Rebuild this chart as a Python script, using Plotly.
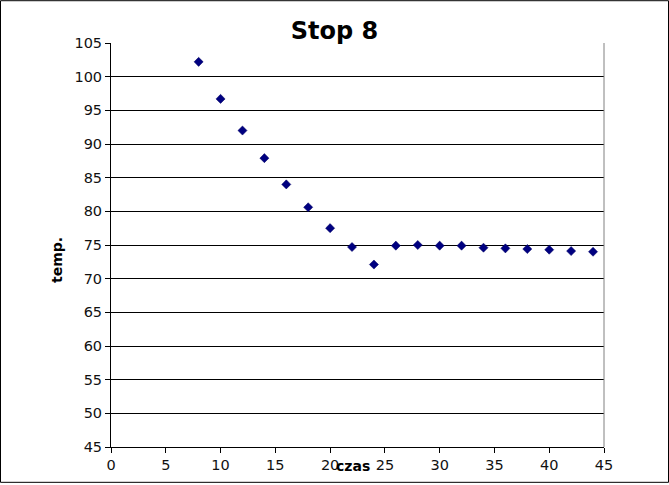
import plotly.graph_objects as go

czas = [8, 10, 12, 14, 16, 18, 20, 22, 24, 26, 28, 30, 32, 34, 36, 38, 40, 42, 44]
temp = [102.2, 96.7, 92.0, 87.9, 84.0, 80.6, 77.5, 74.7, 72.1, 74.9, 75.0, 74.9, 74.9,
        74.6, 74.5, 74.4, 74.3, 74.1, 74.0]

W, H = 669, 485
L, R, T, B = 111, 65, 43, 36
pw, ph = W - L - R, H - T - B

fig = go.Figure()
fig.add_trace(go.Scatter(
    x=czas, y=temp, mode="markers",
    marker=dict(symbol="diamond", size=7, color="#000080",
                line=dict(width=0.5, color="#000060")),
    showlegend=False,
))

font = dict(family="DejaVu Sans", size=14.5, color="#111111")

fig.update_layout(
    width=W, height=H,
    margin=dict(l=L, r=R, t=T, b=B, pad=0),
    paper_bgcolor="white", plot_bgcolor="white",
    font=font,
    title=dict(text="<b>Stop 8</b>", x=0.5, xref="container", xanchor="center",
               y=1 - 31 / H, yref="container", yanchor="middle",
               font=dict(family="DejaVu Sans", size=24, color="#000000")),
    xaxis=dict(range=[0, 45], tickmode="array", tickvals=list(range(0, 46, 5)),
               showgrid=False, zeroline=False, showline=True, linecolor="black",
               linewidth=1, ticks="outside", ticklen=5, tickcolor="black",
               tickfont=font),
    yaxis=dict(range=[45, 105], tickmode="array", tickvals=list(range(45, 106, 5)),
               showgrid=True, gridcolor="black", gridwidth=1, zeroline=False,
               showline=True, linecolor="black", linewidth=1, ticks="outside",
               ticklen=5, tickcolor="black", tickfont=font),
    annotations=[
        dict(text="<b>czas</b>", xref="x", x=22.1, yref="paper", y=-19 / ph,
             xanchor="center", yanchor="middle", showarrow=False,
             font=dict(family="DejaVu Sans", size=14, color="black")),
        dict(text="<b>temp.</b>", xref="paper", x=(57 - L) / pw, yref="paper",
             y=(H - B - 261) / ph, xanchor="center", yanchor="middle",
             textangle=-90, showarrow=False,
             font=dict(family="DejaVu Sans", size=14, color="black")),
    ],
    shapes=[
        dict(type="line", xref="paper", yref="paper", x0=1, x1=1, y0=0, y1=1,
             line=dict(color="#808080", width=1)),
        dict(type="rect", xref="paper", yref="paper",
             x0=-(L - 0.5) / pw, x1=(pw + R - 0.5) / pw,
             y0=-(B - 0.5) / ph, y1=(ph + T - 0.5) / ph,
             line=dict(color="black", width=1), layer="below"),
    ],
)

fig.write_html("out.html", config={"displayModeBar": False},
               post_script="document.body.style.margin='0';document.body.style.overflow='hidden';")
